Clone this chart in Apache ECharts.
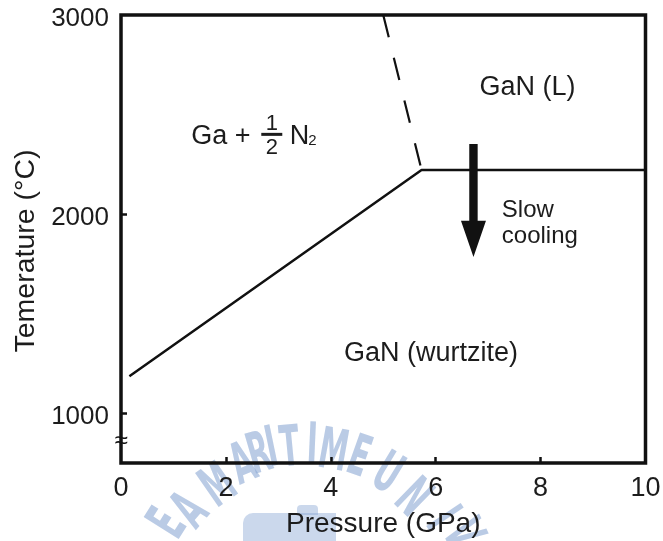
<!DOCTYPE html>
<html><head><meta charset="utf-8">
<script src="https://cdn.jsdelivr.net/npm/echarts@6/dist/echarts.min.js"></script>
<style>html,body{margin:0;padding:0;background:#fff}#c{width:663px;height:541px}</style>
</head><body><div id="c"></div>
<script>
// ---- data ----
const xTickMarks = [2, 4, 6, 8];
const yTickLabels = [1000, 2000, 3000];
const yTickMarks = [1000, 2000];
const solidBoundary = [[0.16, 1186], [5.73, 2222], [10, 2222]];
const dashedBoundary = [[5.0, 3000], [5.73, 2222]];
const coolingArrow = [[6.72, 2352, 1967, 1785]]; // x, top, head start, tip
const regionLabels = [
  { name: 'GaN (L)', value: [7.75, 2635] },
  { name: 'GaN (wurtzite)', value: [5.91, 1298] }
];
const coolingLabel = [{ name: 'Slow\ncooling', value: [7.26, 1955] }];
const gaLabelAnchor = [[1.34, 2392]];
const axisBreak = [[0, 857]];
const watermarkGlyphs = [
  ['E',170,525,-57.8],['A',192,512,-49],['M',220,488,-34.9],['A',244,467,-23.1],
  ['R',260,457,-16.4],['I',272,451,-11.7],['T',290,451,-5.4],['I',312,448,2.5],
  ['M',333,454,10.2],['E',358,460,19.5],['U',386,476,31.2],['N',411,500,44],
  ['I',440,520,56.3],['V',460,535,64.2]
];

const FONT = '"Liberation Sans", Arial, Helvetica, sans-serif';
const INK = '#1c1c1c';
const WM = 'rgba(140,168,212,0.6)';

const chart = echarts.init(document.getElementById('c'));

const graphics = watermarkGlyphs.map(g => ({
  type: 'text', x: g[1], y: g[2], rotation: -g[3] * Math.PI / 180, scaleX: 0.6, scaleY: 1.05, z: -10,
  style: { text: g[0], fontSize: 54, fontWeight: 'bold', fontFamily: '"DejaVu Sans Condensed", "DejaVu Sans", sans-serif',
    fill: WM, align: 'center', verticalAlign: 'middle' }
}));
graphics.push({ type: 'rect', z: -10, shape: { x: 243, y: 513, width: 93, height: 30, r: [10, 0, 0, 0] }, style: { fill: 'rgba(140,168,212,0.45)' } });
graphics.push({ type: 'rect', z: -10, shape: { x: 297, y: 505, width: 21, height: 10, r: [4, 4, 0, 0] }, style: { fill: 'rgba(140,168,212,0.45)' } });

const option = {
  animation: false,
  backgroundColor: '#fff',
  graphic: graphics,
  grid: { left: 121, right: 17.5, top: 15, bottom: 78, show: true, borderColor: '#111', borderWidth: 3.5,
    backgroundColor: 'transparent', containLabel: false, outerBoundsMode: 'none' },
  xAxis: {
    type: 'value', min: 0, max: 10, interval: 2,
    name: 'Pressure (GPa)', nameLocation: 'middle', nameGap: 47,
    nameTextStyle: { fontFamily: FONT, fontSize: 28, color: INK },
    axisLine: { show: false },
    axisTick: { show: true, inside: true, length: 6, customValues: xTickMarks, lineStyle: { color: '#111', width: 2.5 } },
    axisLabel: { fontFamily: FONT, fontSize: 27, color: INK, margin: 12, formatter: v => String(v) },
    splitLine: { show: false }
  },
  yAxis: {
    type: 'value', min: 750, max: 3000,
    name: 'Temerature (°C)', nameLocation: 'middle', nameGap: 80, nameRotate: 90,
    nameTextStyle: { fontFamily: FONT, fontSize: 28.5, color: INK, padding: [0, 24, 0, 0] },
    axisLine: { show: false },
    axisTick: { show: true, inside: true, length: 6, customValues: yTickMarks, lineStyle: { color: '#111', width: 2.5 } },
    axisLabel: { fontFamily: FONT, fontSize: 26, color: INK, margin: 12,
      customValues: yTickLabels, formatter: v => '{t|' + v + '}',
      rich: { t: { fontFamily: FONT, fontSize: 26, color: INK, padding: [8, 0, 0, 0] } } },
    splitLine: { show: false }
  },
  series: [
    { type: 'line', data: solidBoundary, symbol: 'none', z: 3, lineStyle: { color: '#111', width: 2.5 } },
    { type: 'line', data: dashedBoundary, symbol: 'none', z: 3, lineStyle: { color: '#111', width: 2.2, type: [23, 21] } },
    {
      type: 'custom', data: coolingArrow, z: 4,
      renderItem: (p, api) => {
        const x = api.value(0);
        const top = api.coord([x, api.value(1)]);
        const hs = api.coord([x, api.value(2)]);
        const tip = api.coord([x, api.value(3)]);
        const cx = top[0], sw = 4.2, hw = 12.5;
        return { type: 'polygon', shape: { points: [
          [cx - sw, top[1]], [cx + sw, top[1]], [cx + sw, hs[1]], [cx + hw, hs[1]],
          [cx, tip[1]], [cx - hw, hs[1]], [cx - sw, hs[1]]] }, style: { fill: '#111' } };
      }
    },
    {
      type: 'scatter', data: regionLabels, symbolSize: 0, z: 5, itemStyle: { opacity: 1 },
      label: { show: true, position: [0, 0], align: 'center', verticalAlign: 'middle', formatter: '{b}',
        fontFamily: FONT, fontSize: 27, color: INK }
    },
    {
      type: 'scatter', data: coolingLabel, symbolSize: 0, z: 5, itemStyle: { opacity: 1 },
      label: { show: true, position: [0, 0], align: 'left', verticalAlign: 'middle', formatter: '{b}',
        fontFamily: FONT, fontSize: 24, lineHeight: 26, color: INK }
    },
    {
      type: 'custom', data: gaLabelAnchor, z: 5,
      renderItem: (p, api) => {
        const c = api.coord([api.value(0), api.value(1)]);
        const x = c[0], y = c[1];
        const t = (s, dx, dy, fs, al) => ({ type: 'text', x: x + dx, y: y + dy,
          style: { text: s, fontSize: fs, fontFamily: FONT, fill: INK, align: al, verticalAlign: 'middle' } });
        return { type: 'group', children: [
          t('Ga +', 0, 0, 27, 'left'),
          t('1', 80.5, -12.5, 22, 'center'),
          { type: 'rect', shape: { x: x + 70, y: y - 3.2, width: 21, height: 3 }, style: { fill: INK } },
          t('2', 80.5, 11.5, 22, 'center'),
          t('N', 98.5, 0, 27, 'left'),
          t('2', 117, 5, 15, 'left')
        ] };
      }
    },
    {
      type: 'custom', data: axisBreak, z: 6,
      renderItem: (p, api) => {
        const c = api.coord([api.value(0), api.value(1)]);
        return { type: 'text', x: c[0], y: c[1],
          style: { text: '≈', fontSize: 24, fontFamily: FONT, fill: '#111', align: 'center', verticalAlign: 'middle' } };
      }
    }
  ]
};
chart.setOption(option);
</script>
</body></html>
